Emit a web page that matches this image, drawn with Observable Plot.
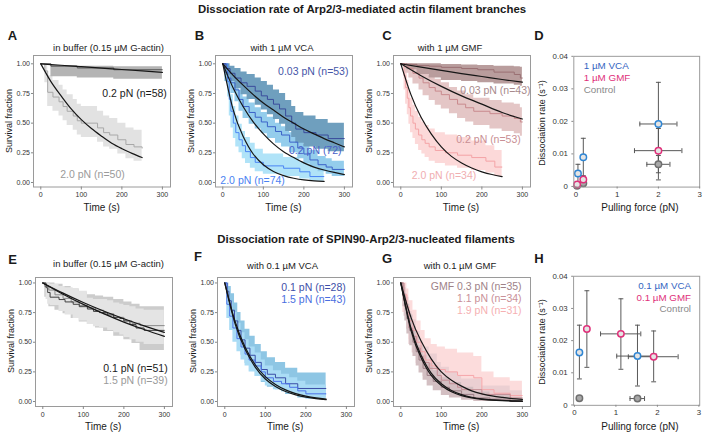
<!DOCTYPE html>
<html><head><meta charset="utf-8">
<script src="https://cdn.jsdelivr.net/npm/d3@7"></script>
<script src="https://cdn.jsdelivr.net/npm/@observablehq/plot@0.6"></script>
<style>
body{margin:0;background:#fff;}
#fig{position:relative;width:709px;height:436px;overflow:hidden;background:#fff;font-family:"Liberation Sans",Arial,Helvetica,sans-serif;}
#fig svg{overflow:visible;}
</style></head>
<body><div id="fig"></div>
<script>
// ---------- shared fit time grids ----------
const fitT50 = [0,50,100,150,200,250,300];
const fitT250 = [0,25,50,75,100,125,150,175,200,225,250];
const fitT300 = [0,25,50,75,100,125,150,175,200,225,250,275,300];

// ---------- Panel A: in buffer ----------
const aT02 = [0,25,90,180,300];
const aS02 = [1,0.98,0.965,0.95,0.95];
const aLo02 = [1,0.89,0.88,0.87,0.865];
const aHi02 = [1,0.985,0.98,0.975,0.97];
const aT20 = [0,10,17,30,45,55,65,80,90,100,140,155,170,190,210,230,250];
const aS20 = [1,0.94,0.76,0.72,0.68,0.64,0.60,0.56,0.52,0.50,0.46,0.42,0.40,0.36,0.32,0.30,0.29];
const aLo20 = [1,0.84,0.64,0.60,0.56,0.52,0.48,0.44,0.40,0.38,0.34,0.30,0.28,0.24,0.20,0.18,0.17];
const aHi20 = [1,1.0,0.90,0.86,0.82,0.78,0.74,0.70,0.66,0.64,0.60,0.56,0.54,0.50,0.46,0.44,0.43];
const aFit02 = [1,0.988,0.976,0.964,0.952,0.94,0.928];
const aFit20 = [1,0.85,0.73,0.62,0.53,0.455,0.39,0.33,0.285,0.245,0.21];
const aNotes = ["0.2 pN (n=58)","2.0 pN (n=50)"];

// ---------- Panel B: with 1 µM VCA ----------
const bT003 = [0,8,18,30,45,60,80,95,110,125,140,155,170,180,200,230,260,300];
const bS003 = [1,0.96,0.92,0.88,0.84,0.81,0.77,0.73,0.70,0.66,0.62,0.56,0.50,0.45,0.42,0.40,0.37,0.37];
const bLo003 = [1,0.90,0.85,0.79,0.74,0.70,0.65,0.61,0.57,0.53,0.49,0.43,0.38,0.33,0.30,0.28,0.26,0.26];
const bHi003 = [1,1,0.98,0.96,0.93,0.91,0.88,0.85,0.82,0.78,0.75,0.69,0.64,0.59,0.56,0.53,0.50,0.50];
const bT02 = [0,5,12,20,30,40,50,65,80,95,110,130,145,165,185,200,215,235,255,270,300];
const bS02 = [1,0.93,0.88,0.84,0.78,0.70,0.64,0.59,0.55,0.51,0.47,0.43,0.40,0.34,0.29,0.24,0.19,0.15,0.13,0.11,0.11];
const bLo02 = [1,0.85,0.79,0.75,0.68,0.60,0.54,0.49,0.45,0.41,0.37,0.33,0.30,0.25,0.20,0.16,0.12,0.09,0.07,0.05,0.05];
const bHi02 = [1,0.99,0.95,0.92,0.86,0.78,0.72,0.67,0.63,0.59,0.55,0.50,0.47,0.42,0.37,0.32,0.27,0.22,0.20,0.18,0.18];
const bT20 = [0,12,16,20,26,32,40,48,56,68,80,100,150,190,215,250];
const bS20 = [1,0.85,0.70,0.60,0.50,0.42,0.36,0.31,0.26,0.21,0.17,0.14,0.12,0.09,0.05,0.05];
const bLo20 = [1,0.72,0.56,0.46,0.37,0.30,0.25,0.20,0.16,0.12,0.09,0.07,0.05,0.03,0.01,0.01];
const bHi20 = [1,0.95,0.84,0.74,0.64,0.56,0.49,0.43,0.38,0.33,0.28,0.24,0.21,0.17,0.12,0.12];
const bFit003 = [1,0.905,0.82,0.74,0.67,0.61,0.55,0.50,0.45,0.41,0.37,0.335,0.30];
const bFit02 = [1,0.80,0.64,0.51,0.41,0.325,0.26,0.21,0.165,0.13,0.105,0.085,0.067];
const bFit20 = [1,0.62,0.39,0.24,0.15,0.093,0.058,0.036,0.022,0.014,0.009];
const bNotes = ["0.03 pN (n=53)","0.2 pN (72)","2.0 pN (n=74)"];

// ---------- Panel C: with 1 µM GMF ----------
const cT003 = [0,15,40,70,100,150,190,230,280,295,300];
const cS003 = [1,0.995,0.985,0.98,0.97,0.96,0.95,0.93,0.91,0.88,0.88];
const cLo003 = [1,0.95,0.91,0.88,0.86,0.85,0.84,0.83,0.82,0.81,0.81];
const cHi003 = [1,1,1,1,0.995,0.99,0.985,0.98,0.975,0.97,0.97];
const cT02 = [0,10,20,30,45,55,70,85,100,120,140,160,180,220,250,280,295,300];
const cS02 = [1,0.98,0.96,0.92,0.88,0.84,0.80,0.77,0.74,0.70,0.66,0.63,0.60,0.58,0.56,0.54,0.51,0.51];
const cLo02 = [1,0.92,0.88,0.83,0.78,0.73,0.69,0.65,0.62,0.58,0.54,0.51,0.48,0.45,0.43,0.41,0.39,0.39];
const cHi02 = [1,1,1,0.99,0.96,0.93,0.90,0.87,0.84,0.80,0.77,0.74,0.71,0.69,0.67,0.66,0.63,0.63];
const cT20 = [0,8,12,16,20,24,30,36,44,52,60,70,85,110,140,175,210,232,250];
const cS20 = [1,0.90,0.80,0.71,0.63,0.56,0.50,0.45,0.40,0.36,0.33,0.30,0.27,0.25,0.23,0.21,0.18,0.13,0.13];
const cLo20 = [1,0.78,0.66,0.57,0.49,0.42,0.37,0.32,0.27,0.24,0.21,0.18,0.16,0.14,0.12,0.10,0.08,0.05,0.05];
const cHi20 = [1,1,0.94,0.86,0.78,0.71,0.65,0.60,0.55,0.51,0.48,0.45,0.42,0.40,0.38,0.35,0.31,0.27,0.27];
const cFit003 = [1,0.972,0.945,0.918,0.893,0.868,0.845];
const cFit02 = [1,0.90,0.81,0.73,0.66,0.59,0.535];
const cFit20 = [1,0.74,0.55,0.41,0.30,0.22,0.165,0.122,0.09,0.067,0.05];
const cNotes = ["0.03 pN (n=43)","0.2 pN (n=53)","2.0 pN (n=34)"];

// ---------- Panel D: rates, branches ----------
const dGroup = ["VCA","VCA","VCA","GMF","GMF","GMF","Control","Control","Control"];
const dForce = [0.05,0.18,2.0,0.03,0.18,2.0,0.03,0.18,2.0];
const dRate = [0.0040,0.0090,0.0192,0.0006,0.0021,0.0110,0.0002,0.0010,0.0068];
const dForceLo = [0.05,0.16,1.55,0.03,0.16,1.42,0.03,0.17,1.72];
const dForceHi = [0.05,0.20,2.45,0.03,0.20,2.57,0.03,0.19,2.28];
const dRateLo = [0.0012,0.0030,0.0060,0.0000,0.0005,0.0020,0.0000,0.0000,0.0042];
const dRateHi = [0.0068,0.0148,0.0320,0.0012,0.0033,0.0178,0.0005,0.0030,0.0095];
const dLegend = ["1 µM VCA","1 µM GMF","Control"];

// ---------- Panel E: SPIN90, in buffer ----------
const eT01 = [0,8,12,18,40,55,75,90,110,125,140,160,175,190,200,215,230,250,300];
const eS01 = [1,0.96,0.92,0.88,0.86,0.84,0.82,0.80,0.78,0.76,0.75,0.73,0.71,0.70,0.68,0.65,0.62,0.60,0.60];
const eLo01 = [1,0.86,0.82,0.81,0.76,0.73,0.70,0.68,0.65,0.63,0.62,0.60,0.58,0.56,0.54,0.52,0.50,0.48,0.48];
const eHi01 = [1,1,1,0.99,0.97,0.96,0.95,0.93,0.87,0.86,0.86,0.85,0.83,0.82,0.81,0.80,0.78,0.77,0.77];
const eT15 = [0,5,15,30,50,70,90,110,130,150,175,200,220,240,300];
const eS15 = [1,0.97,0.94,0.90,0.87,0.84,0.81,0.79,0.77,0.74,0.71,0.68,0.66,0.64,0.64];
const eLo15 = [1,0.88,0.80,0.77,0.74,0.70,0.67,0.65,0.62,0.59,0.55,0.52,0.49,0.43,0.43];
const eHi15 = [1,1,1,0.99,0.97,0.95,0.92,0.90,0.89,0.88,0.86,0.84,0.82,0.80,0.80];
const eFit01 = [1,0.914,0.835,0.763,0.698,0.638,0.583];
const eFit15 = [1,0.905,0.819,0.741,0.670,0.607,0.549];
const eNotes = ["0.1 pN (n=51)","1.5 pN (n=39)"];

// ---------- Panel F: with 0.1 µM VCA ----------
const fT01 = [0,6,10,16,24,32,40,50,62,75,90,105,125,150,180,250];
const fS01 = [1,0.93,0.85,0.77,0.68,0.60,0.52,0.45,0.39,0.33,0.27,0.23,0.20,0.15,0.11,0.11];
const fLo01 = [1,0.82,0.72,0.63,0.54,0.46,0.39,0.32,0.27,0.21,0.16,0.12,0.10,0.06,0.03,0.03];
const fHi01 = [1,1,0.97,0.91,0.83,0.75,0.68,0.61,0.55,0.48,0.42,0.37,0.33,0.28,0.24,0.24];
const fT15 = [0,5,12,20,30,40,50,60,75,90,100,120,140,160,180,200,250];
const fS15 = [1,0.82,0.72,0.62,0.53,0.46,0.40,0.35,0.30,0.25,0.20,0.17,0.15,0.12,0.09,0.065,0.065];
const fLo15 = [1,0.70,0.60,0.50,0.42,0.35,0.30,0.25,0.21,0.17,0.13,0.10,0.08,0.06,0.04,0.02,0.02];
const fHi15 = [1,0.93,0.84,0.75,0.66,0.58,0.52,0.46,0.41,0.35,0.30,0.26,0.23,0.20,0.17,0.14,0.14];
const fFit01 = [1,0.68,0.46,0.31,0.21,0.144,0.098,0.066,0.045,0.031,0.021];
const fFit15 = [1,0.66,0.44,0.29,0.19,0.127,0.084,0.056,0.037,0.024,0.016];
const fNotes = ["0.1 pN (n=28)","1.5 pN (n=43)"];

// ---------- Panel G: with 0.1 µM GMF ----------
const gT19 = [0,5,15,20,30,40,50,60,75,90,110,140,180,200,230,270,300];
const gS19 = [1,0.90,0.80,0.68,0.60,0.50,0.42,0.35,0.30,0.27,0.25,0.22,0.20,0.10,0.07,0.05,0.05];
const gLo19 = [1,0.75,0.63,0.52,0.44,0.35,0.28,0.22,0.17,0.14,0.12,0.10,0.08,0.03,0.01,0.0,0.0];
const gHi19 = [1,1,0.95,0.85,0.77,0.68,0.60,0.53,0.48,0.46,0.44,0.41,0.38,0.25,0.20,0.17,0.17];
const gT11 = [0,8,14,20,28,38,48,55,70,90,100,120,140,150,200,270,300];
const gS11 = [1,0.85,0.75,0.62,0.55,0.45,0.38,0.33,0.28,0.22,0.18,0.15,0.12,0.10,0.06,0.03,0.03];
const gLo11 = [1,0.72,0.61,0.48,0.41,0.32,0.26,0.21,0.17,0.12,0.09,0.07,0.05,0.04,0.01,0.0,0.0];
const gHi11 = [1,0.96,0.88,0.76,0.69,0.59,0.51,0.46,0.40,0.33,0.29,0.25,0.21,0.19,0.13,0.09,0.09];
const gT03 = [0,5,10,15,22,30,38,45,55,65,80,100,120,150,180,220,270,300];
const gS03 = [1,0.90,0.80,0.70,0.60,0.50,0.42,0.35,0.28,0.22,0.17,0.12,0.09,0.06,0.03,0.02,0.0,0.0];
const gLo03 = [1,0.80,0.68,0.57,0.47,0.38,0.30,0.24,0.18,0.13,0.09,0.05,0.03,0.01,0.0,0.0,0.0,0.0];
const gHi03 = [1,0.98,0.91,0.82,0.73,0.63,0.55,0.47,0.39,0.32,0.26,0.20,0.16,0.12,0.08,0.06,0.03,0.03];
const gFit19 = [1,0.71,0.51,0.36,0.25,0.18,0.13,0.09,0.065,0.047,0.035,0.025,0.018];
const gFit11 = [1,0.62,0.39,0.24,0.15,0.093,0.058,0.036,0.022,0.014,0.009,0.006,0.003];
const gFit03 = [1,0.60,0.37,0.22,0.135,0.082,0.05,0.03,0.018,0.011,0.007,0.004,0.0025];
const gNotes = ["GMF 0.3 pN (n=35)","1.1 pN (n=34)","1.9 pN (n=31)"];

// ---------- Panel H: rates, SPIN90 ----------
const hGroup = ["VCA","VCA","GMF","GMF","GMF","Control","Control"];
const hForce = [0.12,1.52,0.30,1.12,1.91,0.12,1.52];
const hRate = [0.0163,0.0152,0.0236,0.0221,0.0150,0.0021,0.0020];
const hForceLo = [0.12,1.02,0.30,0.63,1.30,0.12,1.34];
const hForceHi = [0.12,1.98,0.30,1.60,2.50,0.12,1.69];
const hRateLo = [0.0081,0.0059,0.0117,0.0111,0.0072,0.0015,0.0015];
const hRateHi = [0.0248,0.0248,0.0355,0.0330,0.0230,0.0027,0.0025];
const hLegend = ["0.1 µM VCA","0.1 µM GMF","Control"];

// ---------- helpers ----------
const fig = document.getElementById("fig");
const FONT = '"Liberation Sans", Arial, Helvetica, sans-serif';

function label(text, x, y, {size = 10, weight = "normal", color = "#1a1a1a", rotate = 0} = {}) {
  const d = document.createElement("div");
  d.textContent = text;
  d.style.cssText = `position:absolute;left:${x}px;top:${y}px;font-family:${FONT};font-size:${size}px;font-weight:${weight};color:${color};white-space:nowrap;line-height:1;transform:translate(-50%,-50%) rotate(${rotate}deg);`;
  fig.append(d);
}
function place(svg, left, top) {
  const d = document.createElement("div");
  d.style.cssText = `position:absolute;left:${left}px;top:${top}px;`;
  d.append(svg);
  fig.append(d);
}
const km = (t, s, lo, hi) => t.map((ti, i) => ({t: ti, s: s[i], lo: lo[i], hi: hi[i]}));
const fit = (t, v) => t.map((ti, i) => ({t: ti, v: v[i]}));
const styleBase = {fontFamily: FONT, fontSize: "7px", color: "#333", background: "transparent", overflow: "visible"};

function timePanel({fl, ft, fh, ydom, series, fits, notes}) {
  const fw = 137;
  const marks = [];
  for (const s of series) marks.push(Plot.areaY(s.rows, {x: "t", y1: "lo", y2: "hi", curve: "step-after", fill: s.band}));
  for (const s of series) marks.push(Plot.lineY(s.rows, {x: "t", y: "s", curve: "step-after", stroke: s.line, strokeWidth: 1}));
  for (const f of fits) marks.push(Plot.line(f, {x: "t", y: "v", curve: "natural", stroke: "#161616", strokeWidth: 1.2}));
  marks.push(Plot.frame({stroke: "#9a9a9a"}));
  marks.push(Plot.axisX({ticks: [0, 100, 200, 300], tickSize: 3, tickPadding: 2.5, label: null, stroke: "#888", fill: "#333", fontSize: 7}));
  marks.push(Plot.axisY({ticks: [0, 0.25, 0.5, 0.75, 1], tickFormat: d3.format(".2f"), tickSize: 2, tickPadding: 1.5, label: null, stroke: "#888", fill: "#333", fontSize: 7}));
  for (const n of notes) marks.push(Plot.text([n.text], {x: n.x, y: n.y, text: d => d, textAnchor: n.anchor, fill: n.color, fontSize: 10.5}));
  const svg = Plot.plot({
    width: fw + 50, height: fh + 40,
    marginLeft: 40, marginRight: 10, marginTop: 10, marginBottom: 30,
    x: {domain: [-18, 320]}, y: {domain: ydom},
    style: styleBase, marks
  });
  place(svg, fl - 40, ft - 10);
}

const capH = {draw(ctx, size) { const r = Math.sqrt(size / Math.PI); ctx.moveTo(-r, 0); ctx.lineTo(r, 0); }};
const capV = {draw(ctx, size) { const r = Math.sqrt(size / Math.PI); ctx.moveTo(0, -r); ctx.lineTo(0, r); }};
const groupStyle = {
  VCA: {stroke: "#2f86d4", fill: "#e4e4e4"},
  GMF: {stroke: "#e0307a", fill: "#e4e4e4"},
  Control: {stroke: "#6f6f6f", fill: "#a8a8a8"}
};

function ratePanel({fl, ft, fw, fh, xdom, ydom, rows, legend, legendX, legendAnchor}) {
  const ebar = "#555";
  const hRows = rows.filter(d => d.xhi > d.xlo);
  const marks = [
    Plot.ruleX(rows, {x: "f", y1: "ylo", y2: "yhi", stroke: ebar, strokeWidth: 1}),
    Plot.ruleY(hRows, {y: "r", x1: "xlo", x2: "xhi", stroke: ebar, strokeWidth: 1}),
    Plot.dot(rows, {x: "f", y: "ylo", symbol: capH, r: 2.5, stroke: ebar, fill: "none", strokeWidth: 1}),
    Plot.dot(rows, {x: "f", y: "yhi", symbol: capH, r: 2.5, stroke: ebar, fill: "none", strokeWidth: 1}),
    Plot.dot(hRows, {x: "xlo", y: "r", symbol: capV, r: 2.5, stroke: ebar, fill: "none", strokeWidth: 1}),
    Plot.dot(hRows, {x: "xhi", y: "r", symbol: capV, r: 2.5, stroke: ebar, fill: "none", strokeWidth: 1})
  ];
  for (const g of ["Control", "GMF", "VCA"]) {
    marks.push(Plot.dot(rows.filter(d => d.g === g), {x: "f", y: "r", r: 3.3, stroke: groupStyle[g].stroke, fill: groupStyle[g].fill, strokeWidth: 1.5}));
  }
  marks.push(Plot.frame({stroke: "#9a9a9a"}));
  marks.push(Plot.axisX({ticks: [0, 1, 2, 3], tickFormat: d3.format("d"), tickSize: 2, tickPadding: 2, label: null, stroke: "#888", fill: "#333", fontSize: 8}));
  marks.push(Plot.axisY({ticks: [0, 0.01, 0.02, 0.03, 0.04], tickFormat: d => d === 0 ? "0" : d3.format(".2f")(d), tickSize: 2, tickPadding: 4, label: null, stroke: "#888", fill: "#333", fontSize: 8}));
  const legendColors = ["#3566c2", "#e0307a", "#8a8a8a"];
  const legendY = [0.0371, 0.0334, 0.0298];
  legend.forEach((txt, i) => marks.push(Plot.text([txt], {x: legendX, y: legendY[i], text: d => d, textAnchor: legendAnchor, fill: legendColors[i], fontSize: 10})));
  const svg = Plot.plot({
    width: fw + 50, height: fh + 40,
    marginLeft: 40, marginRight: 10, marginTop: 10, marginBottom: 30,
    x: {domain: xdom}, y: {domain: ydom},
    style: {...styleBase, fontSize: "8px"}, marks
  });
  place(svg, fl - 40, ft - 10);
}
const rateRows = (g, f, r, xlo, xhi, ylo, yhi) => g.map((gi, i) => ({g: gi, f: f[i], r: r[i], xlo: xlo[i], xhi: xhi[i], ylo: ylo[i], yhi: yhi[i]}));

// ---------- layout constants ----------
const topY = [-0.038, 1.07];
const botY = [-0.042, 1.046];

// Panel A
timePanel({fl: 33.2, ft: 55, fh: 131.5, ydom: topY,
  series: [
    {rows: km(aT20, aS20, aLo20, aHi20), band: "#e2e2e2", line: "#a8a8a8"},
    {rows: km(aT02, aS02, aLo02, aHi02), band: "#b4b4b4", line: "#555555"}
  ],
  fits: [fit(fitT50, aFit02), fit(fitT250, aFit20)],
  notes: [
    {text: aNotes[0], x: 311, y: 0.75, anchor: "end", color: "#1a1a1a"},
    {text: aNotes[1], x: 48, y: 0.07, anchor: "start", color: "#9a9a9a"}
  ]});

// Panel B
timePanel({fl: 215, ft: 55, fh: 131.5, ydom: topY,
  series: [
    {rows: km(bT20, bS20, bLo20, bHi20), band: "#b0e3f8", line: "#4a84f4"},
    {rows: km(bT02, bS02, bLo02, bHi02), band: "#94cdec", line: "#3b62c8"},
    {rows: km(bT003, bS003, bLo003, bHi003), band: "#6f9fbe", line: "#3a4c9c"}
  ],
  fits: [fit(fitT300, bFit003), fit(fitT300, bFit02), fit(fitT250, bFit20)],
  notes: [
    {text: bNotes[0], x: 310, y: 0.935, anchor: "end", color: "#4656a8"},
    {text: bNotes[1], x: 293, y: 0.27, anchor: "end", color: "#4a60c8"},
    {text: bNotes[2], x: -6, y: 0.013, anchor: "start", color: "#4a82f2"}
  ]});

// Panel C
timePanel({fl: 392.5, ft: 55, fh: 131.5, ydom: topY,
  series: [
    {rows: km(cT20, cS20, cLo20, cHi20), band: "#fcd9d9", line: "#f4a3a6"},
    {rows: km(cT02, cS02, cLo02, cHi02), band: "#e4c6c6", line: "#c98a8e"},
    {rows: km(cT003, cS003, cLo003, cHi003), band: "#b99d9d", line: "#9a7073"}
  ],
  fits: [fit(fitT50, cFit003), fit(fitT50, cFit02), fit(fitT250, cFit20)],
  notes: [
    {text: cNotes[0], x: 320, y: 0.77, anchor: "end", color: "#a88a8c"},
    {text: cNotes[1], x: 296, y: 0.36, anchor: "end", color: "#c98f94"},
    {text: cNotes[2], x: 27, y: 0.06, anchor: "start", color: "#f0aeb0"}
  ]});

// Panel D
ratePanel({fl: 574, ft: 56, fw: 128, fh: 133, xdom: [-0.05, 3.0], ydom: [-0.0002, 0.04],
  rows: rateRows(dGroup, dForce, dRate, dForceLo, dForceHi, dRateLo, dRateHi),
  legend: dLegend, legendX: 0.19, legendAnchor: "start"});

// Panel E
timePanel({fl: 34.7, ft: 276.5, fh: 129, ydom: botY,
  series: [
    {rows: km(eT15, eS15, eLo15, eHi15), band: "#cccccc", line: "#8a8a8a"},
    {rows: km(eT01, eS01, eLo01, eHi01), band: "#e4e4e4", line: "#404040"}
  ],
  fits: [fit(fitT50, eFit01), fit(fitT50, eFit15)],
  notes: [
    {text: eNotes[0], x: 308, y: 0.277, anchor: "end", color: "#1a1a1a"},
    {text: eNotes[1], x: 308, y: 0.18, anchor: "end", color: "#9a9a9a"}
  ]});

// Panel F
timePanel({fl: 216.7, ft: 276.5, fh: 129, ydom: botY,
  series: [
    {rows: km(fT01, fS01, fLo01, fHi01), band: "#8ec6e4", line: "#3b4ea6"},
    {rows: km(fT15, fS15, fLo15, fHi15), band: "#aadcf5", line: "#4b72e8"}
  ],
  fits: [fit(fitT250, fFit01), fit(fitT250, fFit15)],
  notes: [
    {text: fNotes[0], x: 298.5, y: 0.96, anchor: "end", color: "#3e4fa8"},
    {text: fNotes[1], x: 298.5, y: 0.86, anchor: "end", color: "#4a6ee0"}
  ]});

// Panel G
timePanel({fl: 392.7, ft: 276.5, fh: 129, ydom: botY,
  series: [
    {rows: km(gT19, gS19, gLo19, gHi19), band: "#fcdcdc", line: "#f6a6aa"},
    {rows: km(gT11, gS11, gLo11, gHi11), band: "#ebcfd2", line: "#c48c94"},
    {rows: km(gT03, gS03, gLo03, gHi03), band: "#d3bfc2", line: "#9b7d84"}
  ],
  fits: [fit(fitT300, gFit19), fit(fitT300, gFit11), fit(fitT300, gFit03)],
  notes: [
    {text: gNotes[0], x: 298, y: 0.97, anchor: "end", color: "#9e8288"},
    {text: gNotes[1], x: 298, y: 0.865, anchor: "end", color: "#c99098"},
    {text: gNotes[2], x: 298, y: 0.764, anchor: "end", color: "#f6b0b2"}
  ]});

// Panel H
ratePanel({fl: 574, ft: 276, fw: 129, fh: 132, xdom: [-0.02, 3.02], ydom: [-0.0001, 0.04],
  rows: rateRows(hGroup, hForce, hRate, hForceLo, hForceHi, hRateLo, hRateHi),
  legend: hLegend, legendX: 2.81, legendAnchor: "end"});

// ---------- titles and labels ----------
label("Dissociation rate of Arp2/3-mediated actin filament branches", 362, 10, {size: 11.4, weight: "bold"});
label("Dissociation rate of SPIN90-Arp2/3-nucleated filaments", 366, 240, {size: 11.4, weight: "bold"});
[["A", 12.5, 34.5], ["B", 199.5, 34.5], ["C", 387, 34.5], ["D", 539, 34.5],
 ["E", 12.5, 258.5], ["F", 198, 256], ["G", 387, 257.5], ["H", 539, 257.5]]
  .forEach(([t, x, y]) => label(t, x, y, {size: 13, weight: "bold"}));
label("in buffer (0.15 µM G-actin)", 108.5, 48, {size: 9.5});
label("with 1 µM VCA", 282, 48, {size: 9.5});
label("with 1 µM GMF", 450, 48, {size: 9.5});
label("in buffer (0.15 µM G-actin)", 108.5, 263.5, {size: 9.5});
label("with 0.1 µM VCA", 282.5, 265.5, {size: 9.5});
label("with 0.1 µM GMF", 460, 265.5, {size: 9.5});
// axis titles
[[9, 121], [191, 121], [368.5, 121], [10.7, 341], [192.7, 341], [368.7, 341]]
  .forEach(([x, y]) => label("Survival fraction", x, y, {size: 9, rotate: -90}));
[[101.7, 208.3], [283.5, 208.3], [461, 208.3], [103.2, 426.7], [285.2, 426.7], [461.2, 426.7]]
  .forEach(([x, y]) => label("Time (s)", x, y, {size: 10}));
label("Dissociation rate (s⁻¹)", 542, 122.5, {size: 9, rotate: -90});
label("Dissociation rate (s⁻¹)", 542, 342, {size: 9, rotate: -90});
label("Pulling force (pN)", 640, 208.3, {size: 10});
label("Pulling force (pN)", 640, 426.7, {size: 10});
</script>
</body></html>
